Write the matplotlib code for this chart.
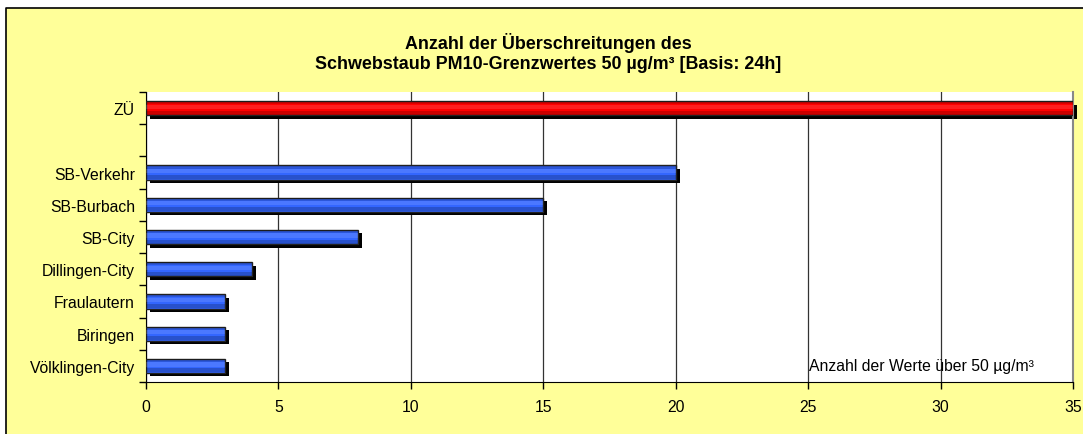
import numpy as np
import matplotlib.pyplot as plt
import matplotlib.transforms as mtransforms
from matplotlib.patches import Rectangle
from matplotlib.lines import Line2D

plt.rcParams['font.family'] = ['Liberation Sans', 'DejaVu Sans']

stations = ['ZÜ', '', 'SB-Verkehr', 'SB-Burbach', 'SB-City', 'Dillingen-City',
            'Fraulautern', 'Biringen', 'Völklingen-City']
counts = [35, np.nan, 20, 15, 8, 4, 3, 3, 3]
colors = ['#ff0000', 'none', '#3366ff', '#3366ff', '#3366ff', '#3366ff',
          '#3366ff', '#3366ff', '#3366ff']
xticks = [0, 5, 10, 15, 20, 25, 30, 35]

title = 'Anzahl der Überschreitungen des\nSchwebstaub PM10-Grenzwertes 50 µg/m³ [Basis: 24h]'
note = 'Anzahl der Werte über 50 µg/m³'

W, H = 1083, 435
fig = plt.figure(figsize=(W / 100, H / 100), dpi=100)
fig.patch.set_facecolor('#ffff99')

# white margin at top and left, black frame line of the chart area
bx, by = 6 / W, 1 - 9 / H
fig.patches.append(Rectangle((0, by), 1, 1 - by, transform=fig.transFigure,
                             facecolor='white', linewidth=0, zorder=-10))
fig.patches.append(Rectangle((0, 0), bx, 1, transform=fig.transFigure,
                             facecolor='white', linewidth=0, zorder=-10))
fig.lines.append(Line2D([bx, bx, 1], [0, by, by], transform=fig.transFigure,
                        color='black', linewidth=1.2))

ax = fig.add_axes([146 / W, 1 - 383 / H, (1073 - 146) / W, (383 - 93) / H])
ax.set_facecolor('white')

y = np.arange(len(stations))
vals = np.nan_to_num(np.array(counts, dtype=float))
h = 0.44

# shadow
shadow = ax.transData + mtransforms.ScaledTranslation(4 / 100, -3.5 / 100, fig.dpi_scale_trans)
for yi, v, c in zip(y, vals, colors):
    if v > 0:
        ax.barh(yi, v, height=h, color='black', transform=shadow, zorder=2, clip_on=False)
        ax.barh(yi, v, height=h, color=c, edgecolor='#222222', linewidth=1.0, zorder=3)
        # stripes to imitate the gradient
        ax.barh(yi - h * 0.1, v, height=h * 0.3, color='white', alpha=0.12,
                linewidth=0, zorder=4)
        ax.barh(yi + h * 0.32, v, height=h * 0.28, color='black', alpha=0.2,
                linewidth=0, zorder=4)
        ax.barh(yi - h * 0.38, v, height=h * 0.2, color='black', alpha=0.15,
                linewidth=0, zorder=4)

ax.set_xlim(0, 35)
ax.set_ylim(len(stations) - 0.5, -0.5)
ax.set_xticks(xticks)
ax.set_xticklabels([str(t) for t in xticks], fontsize=11.3)
ax.set_yticks(y)
ax.set_yticklabels(stations, fontsize=11.3)
ax.tick_params(axis='y', length=0, pad=8)
ax.set_yticks(np.arange(-0.5, len(stations)), minor=True)
ax.tick_params(axis='y', which='minor', length=5, width=1)
ax.tick_params(axis='x', length=5, width=1, pad=7)

ax.grid(axis='x', color='#333333', linewidth=0.9)
ax.set_axisbelow(True)
ax.spines['top'].set_visible(False)
ax.spines['right'].set_color('#888888')
ax.spines['right'].set_linewidth(1.5)

ax.text(25.05, 8.0, note, fontsize=11.3, va='center', ha='left', zorder=5)

fig.text(548 / W, 1 - 53 / H, title, ha='center', va='center', fontsize=12.9,
         fontweight='bold', linespacing=1.25)

fig.savefig('out.png', dpi=100, facecolor=fig.get_facecolor())
